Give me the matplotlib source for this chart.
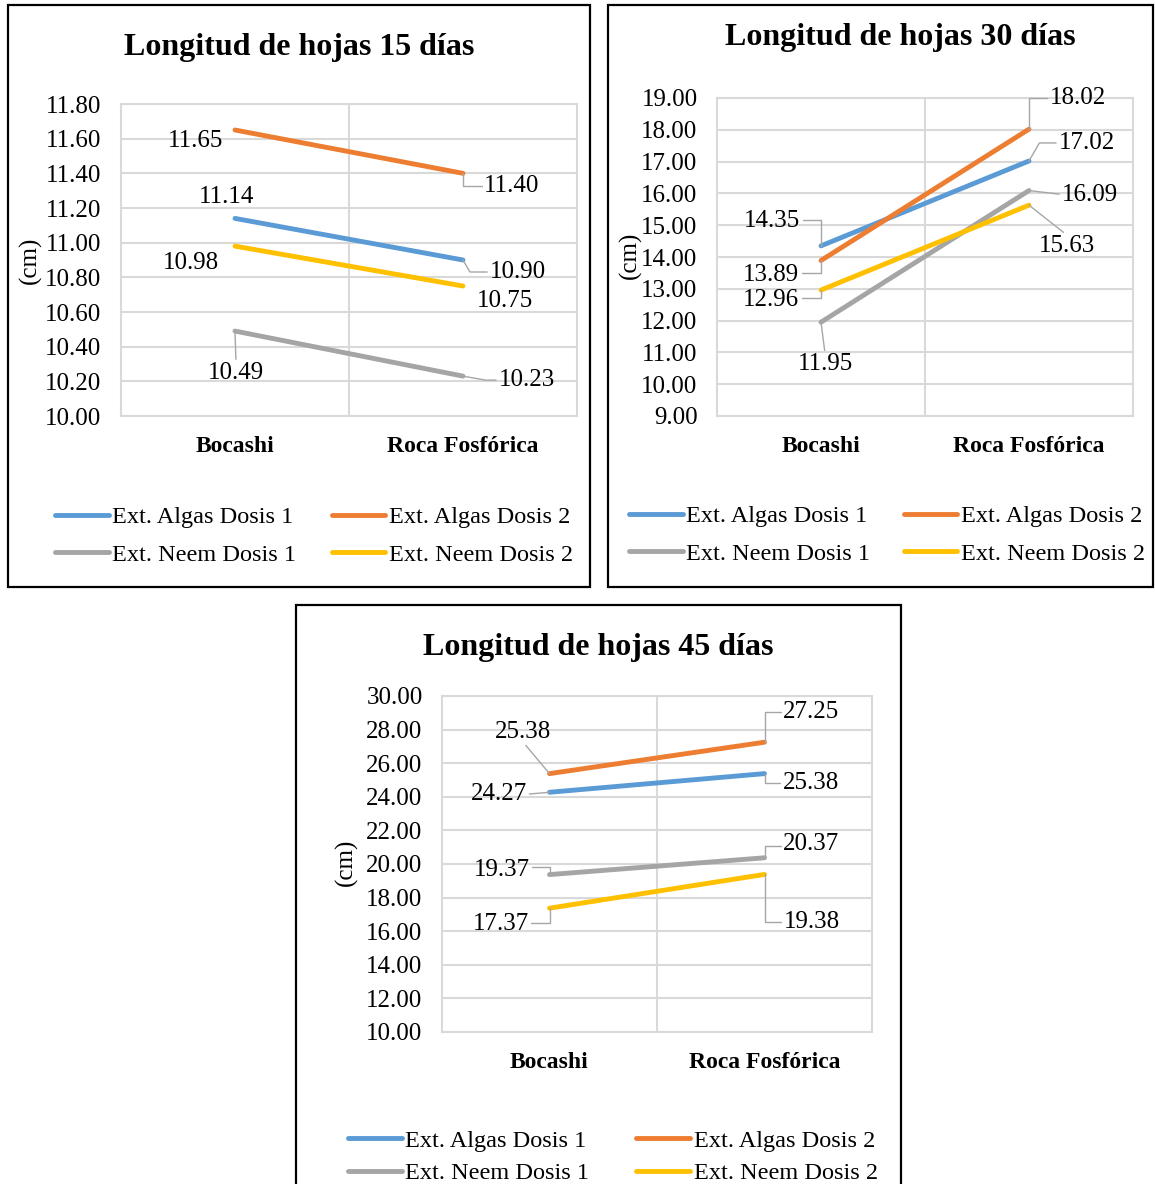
import matplotlib

matplotlib.use("Agg")

import matplotlib.pyplot as plt
from matplotlib.lines import Line2D
from matplotlib.patches import Rectangle

plt.rcParams["font.family"] = ["Liberation Serif", "DejaVu Serif"]

W, H = 1155, 1184

CATEGORIES = ["Bocashi", "Roca Fosfórica"]
SERIES = ["Ext. Algas Dosis 1", "Ext. Algas Dosis 2", "Ext. Neem Dosis 1", "Ext. Neem Dosis 2"]
COLORS = ["#5B9BD5", "#ED7D31", "#A5A5A5", "#FFC000"]

# leaf length (cm) per series: [Bocashi, Roca Fosfórica]
dias15 = [[11.14, 10.90], [11.65, 11.40], [10.49, 10.23], [10.98, 10.75]]
dias30 = [[14.35, 17.02], [13.89, 18.02], [11.95, 16.09], [12.96, 15.63]]
dias45 = [[24.27, 25.38], [25.38, 27.25], [19.37, 20.37], [17.37, 19.38]]

TITLES = ["Longitud de hojas 15 días", "Longitud de hojas 30 días", "Longitud de hojas 45 días"]
YTICKS15 = [10.0 + 0.2 * i for i in range(10)]
YTICKS30 = [9.0 + i for i in range(11)]
YTICKS45 = [10.0 + 2 * i for i in range(11)]

# label placement: (dx, dy) in pixels from the point (dy down), leader style, relpos on text
# leader: None, "s" straight, or an angle (deg) of the segment arriving at the point
LBL15 = [
    [(-8, -21, None, None), (55, 12, 120, (0, 0.5))],
    [(-39, 11, None, None), (49, 13, 90, (0, 0.5))],
    [(1, 42, "s", (0.5, 1)), (64, 4, 170, (0, 0.5))],
    [(-44, 17, None, None), (42, 15, None, None)],
]
LBL30 = [
    [(-49, -25, 90, (1, 0.55)), (58, -18, 60, (0, 0.5))],
    [(-50, 15, 90, (1, 0.6)), (49, -31, 90, (0, 0.5))],
    [(4, 42, "s", (0.5, 1)), (61, 4, "s", (0, 0.5))],
    [(-50, 10, 90, (1, 0.6)), (38, 41, "s", (0.5, 1))],
]
LBL45 = [
    [(-51, 2, "s", (1, 0.5)), (46, 9, 90, (0, 0.5))],
    [(-26, -42, "s", (0.5, 0)), (47, -30, 90, (0, 0.5))],
    [(-48, -5, 90, (1, 0.6)), (47, -14, 90, (0, 0.4))],
    [(-49, 16, 90, (1, 0.55)), (47, 48, 90, (0, 0.5))],
]

PANELS = [
    dict(data=dias15, title=TITLES[0], yticks=YTICKS15, labels=LBL15,
         box=(8, 5, 590, 587), ax=(121, 104, 577, 416), title_xy=(299, 47),
         ylab_xy=(30, 260), leg_xy=(314, 536), leg_space=0.62, col_space=1.45),
    dict(data=dias30, title=TITLES[1], yticks=YTICKS30, labels=LBL30,
         box=(608, 5, 1153, 587), ax=(717, 98, 1133, 416), title_xy=(900, 38),
         ylab_xy=(630, 255), leg_xy=(887, 535), leg_space=0.62, col_space=1.37),
    dict(data=dias45, title=TITLES[2], yticks=YTICKS45, labels=LBL45,
         box=(296, 605, 901, 1190), ax=(442, 696, 872, 1032), title_xy=(598, 648),
         ylab_xy=(346, 862), leg_xy=(613, 1157), leg_space=0.45, col_space=1.93),
]

GRID = "#D9D9D9"
LEADER = "#A6A6A6"
FS = 18
LEG_FS = 17.5

fig = plt.figure(figsize=(W / 100, H / 100), dpi=100)


def fx(x):
    return x / W


def fy(y):
    return 1 - y / H


for p in PANELS:
    x0, y0, x1, y1 = p["box"]
    fig.add_artist(Rectangle((fx(x0), fy(y1)), fx(x1 - x0), (y1 - y0) / H,
                             transform=fig.transFigure, fill=False,
                             edgecolor="black", linewidth=1.6, zorder=0))

    a0, b0, a1, b1 = p["ax"]
    ax = fig.add_axes([fx(a0), fy(b1), fx(a1 - a0), (b1 - b0) / H])
    yt = p["yticks"]
    ax.set_xlim(-0.5, 1.5)
    ax.set_ylim(yt[0], yt[-1])
    ax.set_yticks(yt)
    ax.set_yticklabels([f"{v:.2f}" for v in yt], fontsize=FS)
    ax.set_xticks(range(len(CATEGORIES)))
    ax.set_xticklabels(CATEGORIES, fontsize=17, fontweight="bold")
    ax.tick_params(length=0)
    ax.tick_params(axis="y", pad=14)
    ax.tick_params(axis="x", pad=14.5)
    ax.grid(axis="y", color=GRID, linewidth=1.5)
    ax.axvline(0.5, color=GRID, linewidth=1.5)
    ax.set_axisbelow(True)
    for s in ax.spines.values():
        s.set_color(GRID)
        s.set_linewidth(1.5)

    for vals, color, name in zip(p["data"], COLORS, SERIES):
        ax.plot(range(len(vals)), vals, color=color, linewidth=3.5,
                solid_capstyle="round", label=name, zorder=3)

    for vals, specs in zip(p["data"], p["labels"]):
        for i, (v, (dx, dy, leader, rp)) in enumerate(zip(vals, specs)):
            kw = {}
            if leader is not None:
                cs = "arc3" if leader == "s" else f"angle,angleA=0,angleB={leader},rad=0"
                kw["arrowprops"] = dict(arrowstyle="-", color=LEADER, linewidth=1,
                                        shrinkA=0, shrinkB=0, connectionstyle=cs,
                                        relpos=rp)
            ax.annotate(f"{v:.2f}", xy=(i, v), xytext=(dx, -dy),
                        textcoords="offset pixels", ha="center", va="center",
                        fontsize=FS, zorder=4, annotation_clip=False, **kw)

    fig.text(fx(p["title_xy"][0]), fy(p["title_xy"][1]), p["title"],
             ha="center", va="center", fontsize=23, fontweight="bold")
    fig.text(fx(p["ylab_xy"][0]), fy(p["ylab_xy"][1]), "(cm)",
             ha="center", va="center", fontsize=FS, rotation=90)

    # two columns, filled column-wise: row 1 Algas, row 2 Neem
    order = [0, 2, 1, 3]
    handles = [Line2D([], [], color=COLORS[k], linewidth=3.5, solid_capstyle="round")
               for k in order]
    fig.legend(handles, [SERIES[k] for k in order], ncol=2, frameon=False,
               loc="center", bbox_to_anchor=(fx(p["leg_xy"][0]), fy(p["leg_xy"][1])),
               fontsize=LEG_FS, handlelength=2.2, handletextpad=0.15,
               columnspacing=p["col_space"], labelspacing=p["leg_space"],
               borderpad=0, borderaxespad=0)

fig.savefig("out.png", dpi=100)
